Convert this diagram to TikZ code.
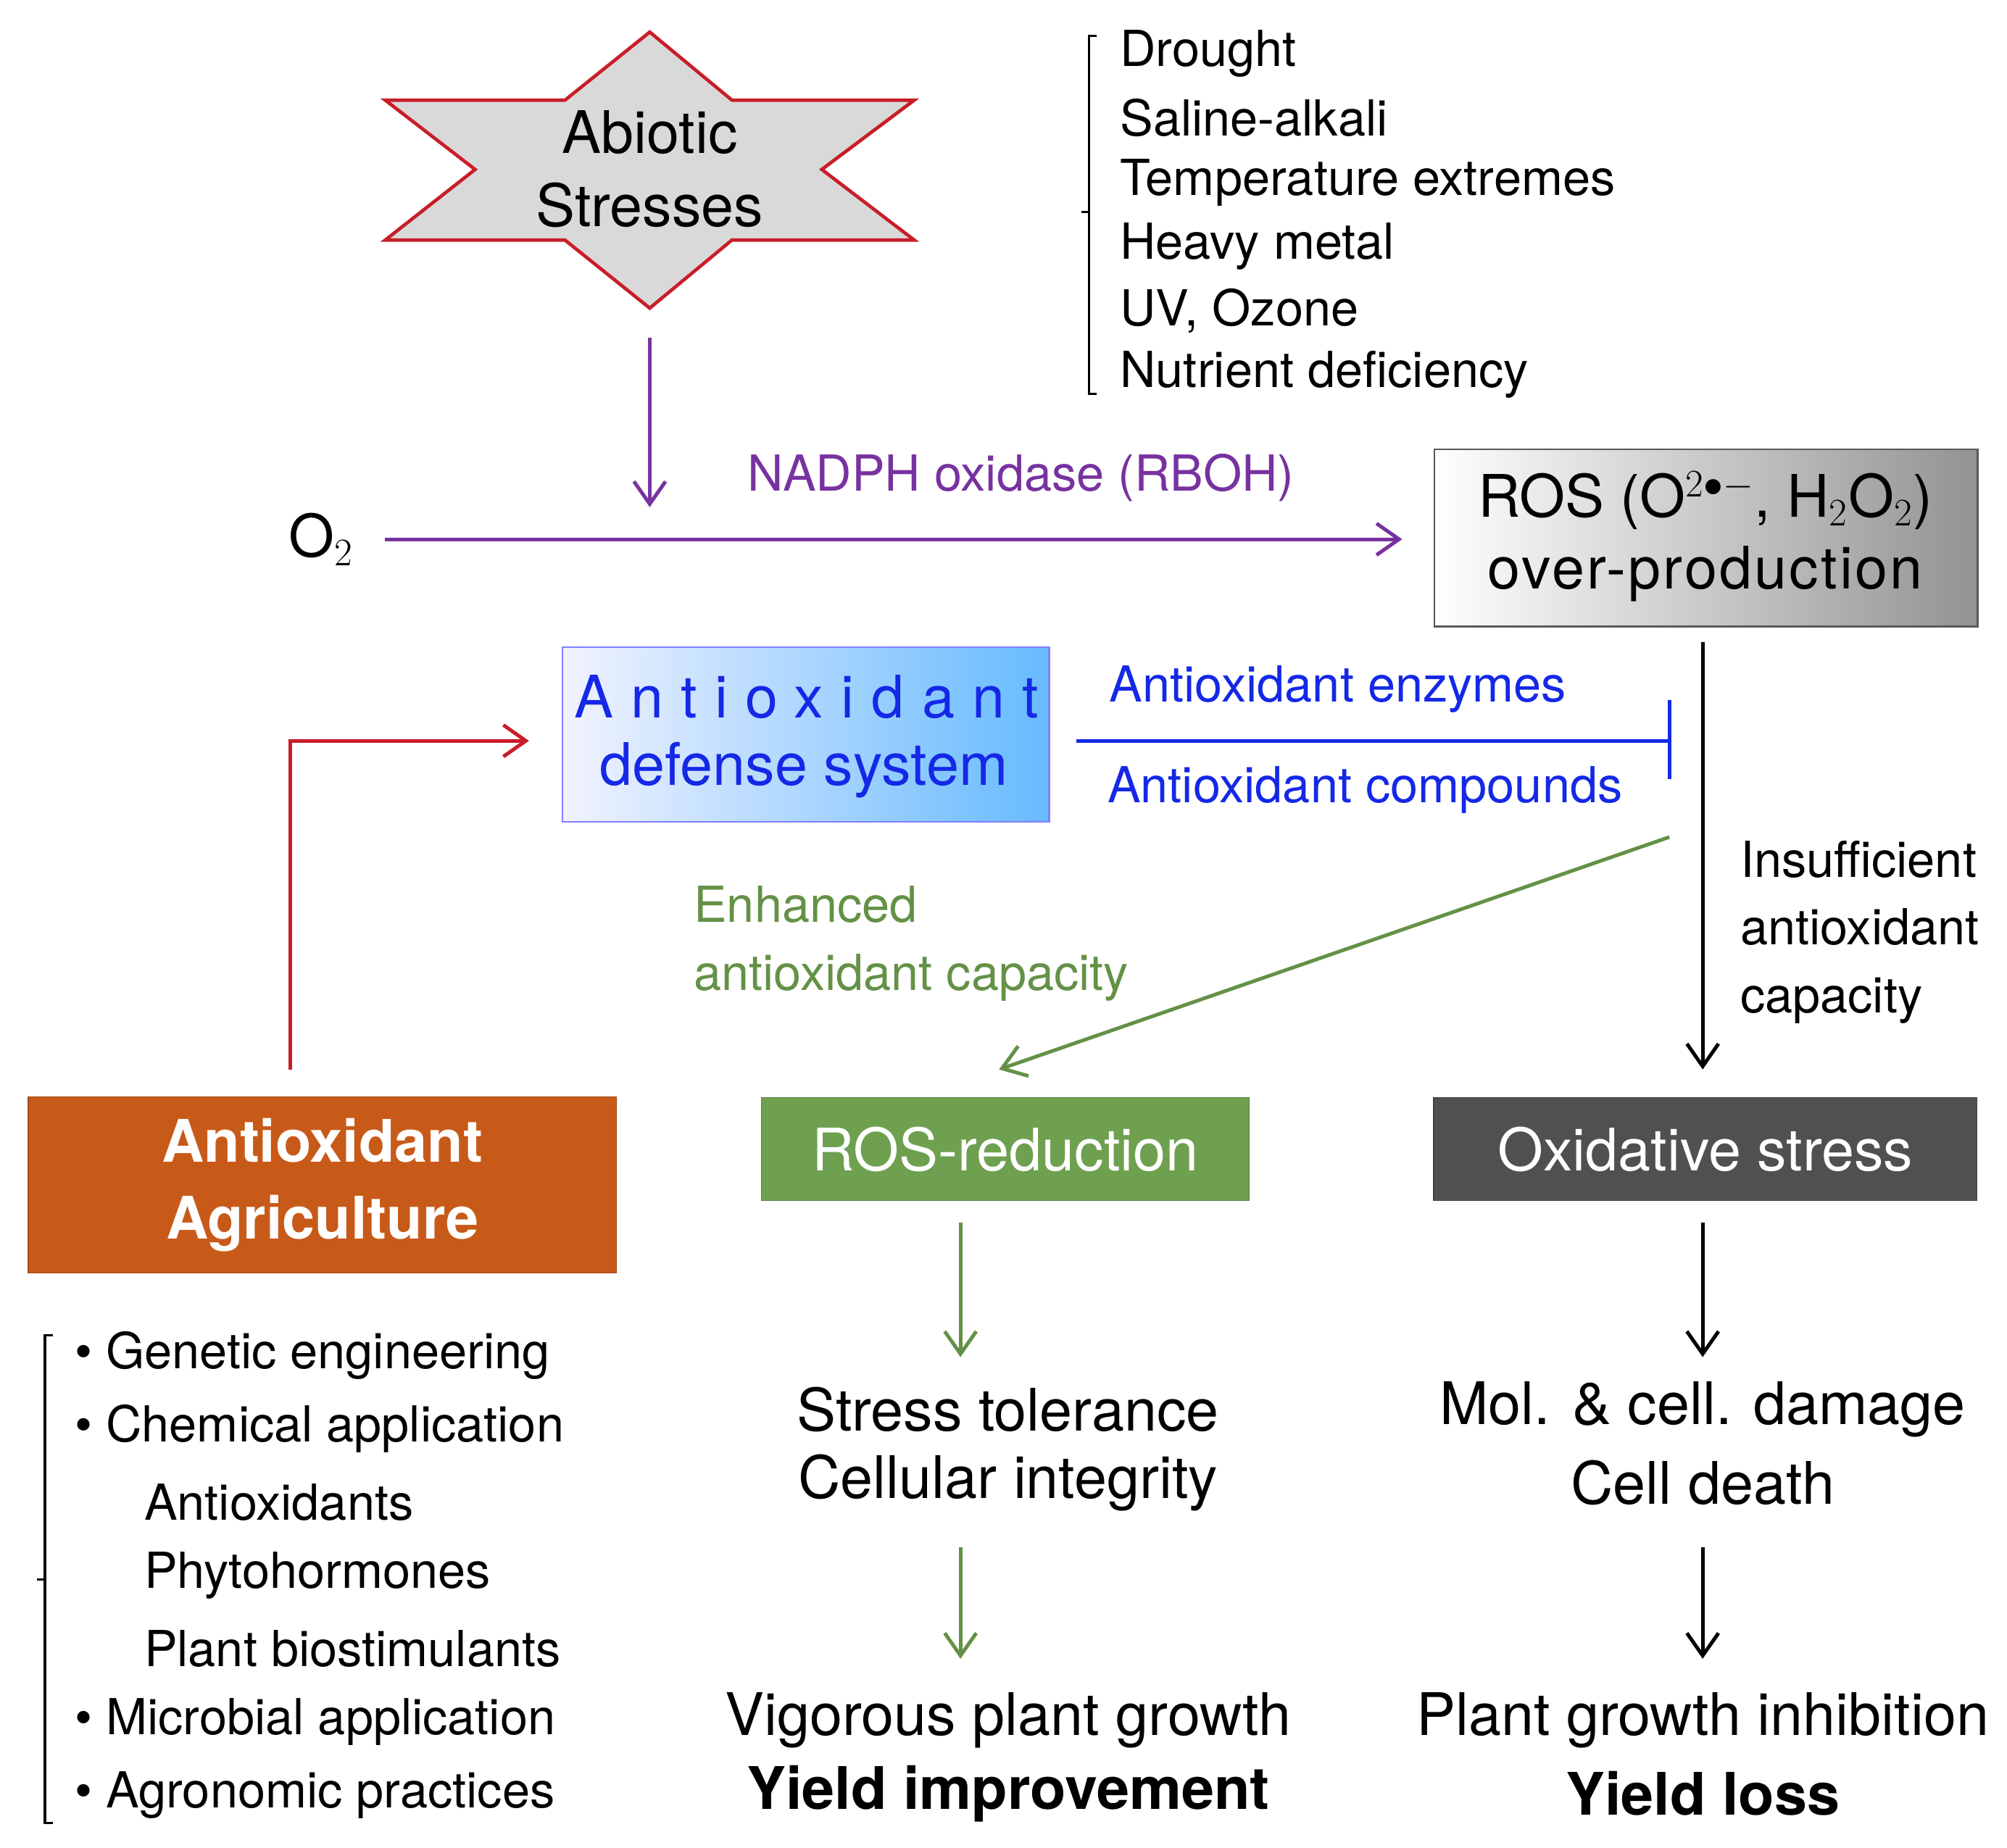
\documentclass[tikz,border=0pt]{standalone}
\usepackage{fontspec}
\setmainfont{TeX Gyre Heros}
\usetikzlibrary{arrows.meta}
\definecolor{purp}{RGB}{120,50,160}
\definecolor{grn}{RGB}{100,145,70}
\definecolor{blu}{RGB}{20,40,230}
\definecolor{redl}{RGB}{200,30,40}
\definecolor{orng}{RGB}{200,90,25}
\definecolor{gbox}{RGB}{110,160,80}
\definecolor{dbox}{RGB}{80,80,80}
\tikzset{
 t/.style={font=\fontsize{22}{26}\selectfont,inner sep=0},
 tb/.style={font=\fontsize{26}{30}\selectfont,inner sep=0},
 arr/.style={-{Straight Barb[length=10pt,width=14pt]},line width=1.6pt},
}
\begin{document}
\begin{tikzpicture}[x=0.02cm,y=-0.02cm]
\useasboundingbox (0,0) rectangle (1563,1439);
% star
\draw[redl,line width=1.5pt,fill=gray!30] (506,25)--(570,78)--(712,78)--(640,132)--(712,187)--(570,187)--(506,240)--(440,187)--(300,187)--(370,132)--(300,78)--(440,78)--cycle;
\node[tb] (abi) at (506,103) {Abiotic};
\node[tb] (str) at (506,160) {Stresses};
% bracket list
\draw[line width=1pt] (854,28)--(848,28)--(848,307)--(854,307) (848,165)--(842,165);
\foreach \s [count=\i] in {Drought,Saline-alkali,Temperature extremes,Heavy metal,{UV, Ozone},Nutrient deficiency}
  \node[t,anchor=west] at (872,{42+50*(\i-1)}) {\s};
% purple
\coordinate (pa) at (506,263); \coordinate (pb) at (506,395);
\draw[arr,purp] (pa)--(pb);
\node[tb] (o2) at (250,420) {O$_2$};
\coordinate (rosl) at (1092,420);
\draw[arr,purp] (300,420)--(rosl);
\node[t,purp] (nad) at (795,372) {NADPH oxidase (RBOH)};
% ROS box
\shade[left color=white,right color=gray!85] (1117,350) rectangle (1540,488);
\draw[line width=0.8pt,gray!70!black] (1117,350) rectangle (1540,488);
\node[tb] (ros1) at (1328,390) {ROS (O$^{2\bullet-}$, H$_2$O$_2$)};
\node[tb] (ros2) at (1328,447) {\addfontfeature{LetterSpace=4}over-production};
% antioxidant defense
\shade[left color=blue!5,right color=blue!45!cyan!60] (438,504) rectangle (817,640);
\draw[line width=0.8pt,blue!50] (438,504) rectangle (817,640);
\node[tb,blu] (ad1) at (628,543) {\addfontfeature{LetterSpace=30}Antioxidant};
\node[tb,blu] (ad2) at (626,600) {defense system};
\draw[blu,line width=1.6pt] (838,577)--(1300,577) (1300,545)--(1300,607);
\node[t,blu] (ae) at (1042,537) {Antioxidant enzymes};
\node[t,blu] (ac) at (1063,615) {Antioxidant compounds};
% black down
\draw[arr] (1326,500)--(1326,833);
\node[t,anchor=west,align=left] (ins) at (1355,726) {Insufficient\\[4pt]antioxidant\\[4pt]capacity};
% green diag
\draw[arr,grn] (1300,652)--(778,833);
\node[t,grn,anchor=west,align=left] (enh) at (540,735) {Enhanced\\[4pt]antioxidant capacity};
% red elbow
\draw[arr,redl] (226,833)--(226,577)--(412,577);
% boxes
\node[fill=orng,draw=orng!80!black,minimum width=458*0.02cm,minimum height=137*0.02cm,text=white,font=\fontsize{26}{32}\selectfont\bfseries,align=center] (aa) at (251,923) {Antioxidant\\[2pt]Agriculture};
\node[fill=gbox,draw=gbox!80!black,minimum width=380*0.02cm,minimum height=80*0.02cm,text=white,font=\fontsize{26}{30}\selectfont] (rr) at (783,895) {ROS-reduction};
\node[fill=dbox,draw=dbox!80!black,minimum width=423*0.02cm,minimum height=80*0.02cm,text=white,font=\fontsize{26}{30}\selectfont] (os) at (1328,895) {Oxidative stress};
% down arrows
\draw[arr,grn] (748,952)--(748,1057);
\draw[arr,grn] (748,1205)--(748,1292);
\draw[arr] (1326,952)--(1326,1057);
\draw[arr] (1326,1205)--(1326,1292);
\node[tb] at (785,1098) {Stress tolerance};
\node[tb] at (785,1155) {Cellular integrity};
\node[tb] at (1326,1098) {Mol. \& cell. damage};
\node[tb] at (1326,1155) {Cell death};
\node[tb] at (785,1340) {Vigorous plant growth};
\node[tb,font=\fontsize{26}{30}\selectfont\bfseries] at (785,1397) {Yield improvement};
\node[tb] at (1326,1340) {Plant growth inhibition};
\node[tb,font=\fontsize{26}{30}\selectfont\bfseries] at (1326,1397) {Yield loss};
% left list
\draw[line width=1pt] (41,1040)--(35,1040)--(35,1420)--(41,1420) (35,1230)--(29,1230);
\foreach \s/\y in {Genetic engineering/1056,Chemical application/1113,Microbial application/1341,Agronomic practices/1398}
  {\node[t,anchor=west] at (58,\y) {\textbullet\ \s};}
\foreach \s/\y in {Antioxidants/1170,Phytohormones/1227,Plant biostimulants/1284}
  {\node[t,anchor=west] at (112,\y) {\s};}
\end{tikzpicture}
\end{document}
